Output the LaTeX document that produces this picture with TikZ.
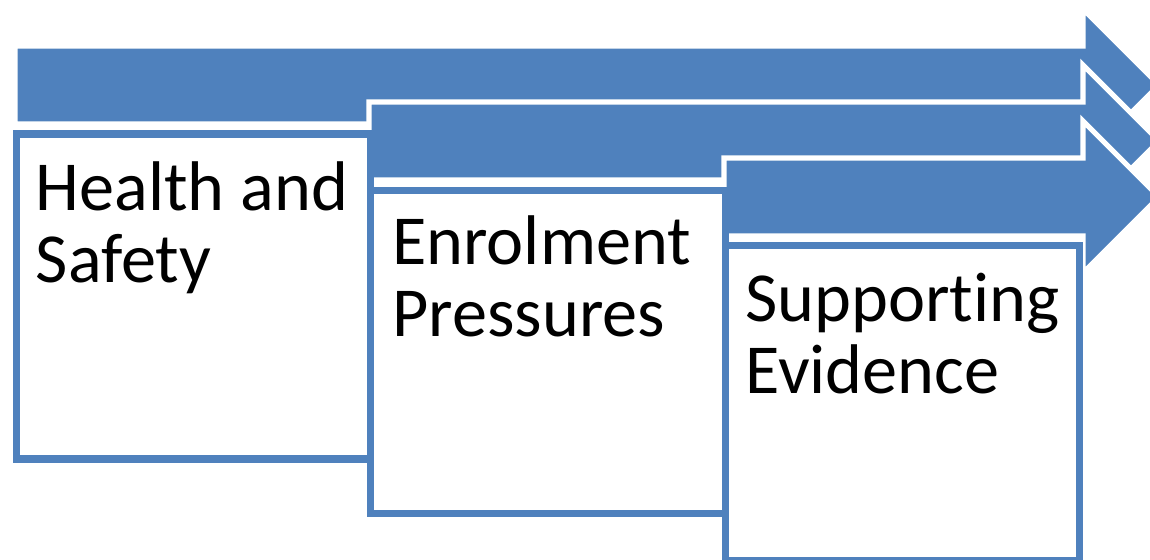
\documentclass[tikz,border=0pt]{standalone}
\usepackage{fontspec}
\setmainfont{Carlito}[Ligatures={NoCommon}]
\usepackage{xcolor}
\usepackage{tikz}
\usetikzlibrary{calc}

\definecolor{bandblue}{RGB}{79,129,189}

\tikzset{
  arrowband/.style={fill=bandblue, draw=white, line width=3},
  topicbox/.style={rectangle, draw=bandblue, fill=white, line width=4, inner sep=0pt},
  topictext/.style={anchor=base west, align=left, inner sep=0pt, font=\fontsize{40}{41}\selectfont}
}

\begin{document}
\begin{tikzpicture}[x=0.02cm, y=-0.02cm]

\useasboundingbox (0,0) rectangle (1150,560);
\clip (0,0) rectangle (1150,560);

% bands, each ending in a head at the right
\foreach \l/\t in {15/46, 369/102, 724/158}{
  \filldraw[arrowband] (\l,\t) -- (1083,\t) -- (1083,\t-37) -- (1159,\t+39) -- (1083,\t+115) -- (1083,\t+78) -- (\l,\t+78) -- cycle;
}

\node (health) [topicbox, minimum width=354*0.02cm, minimum height=325*0.02cm, anchor=north west] at (12.5,130.5) {};
\node (enrolment) [topicbox, minimum width=355*0.02cm, minimum height=323*0.02cm, anchor=north west] at (367,187) {};
\node (evidence) [topicbox, minimum width=354*0.02cm, minimum height=315*0.02cm, anchor=north west] at (722,242) {};

% base of a two-line node sits on its second line
\node (healthtext) [topictext] at ($(health.north west)+(23,152)$) {Health and\\Safety};
\node (enrolmenttext) [topictext] at ($(enrolment.north west)+(25,150)$) {Enrolment\\Pressures};
\node (evidencetext) [topictext] at ($(evidence.north west)+(23,152)$) {Supporting\\Evidence};

\end{tikzpicture}
\end{document}
